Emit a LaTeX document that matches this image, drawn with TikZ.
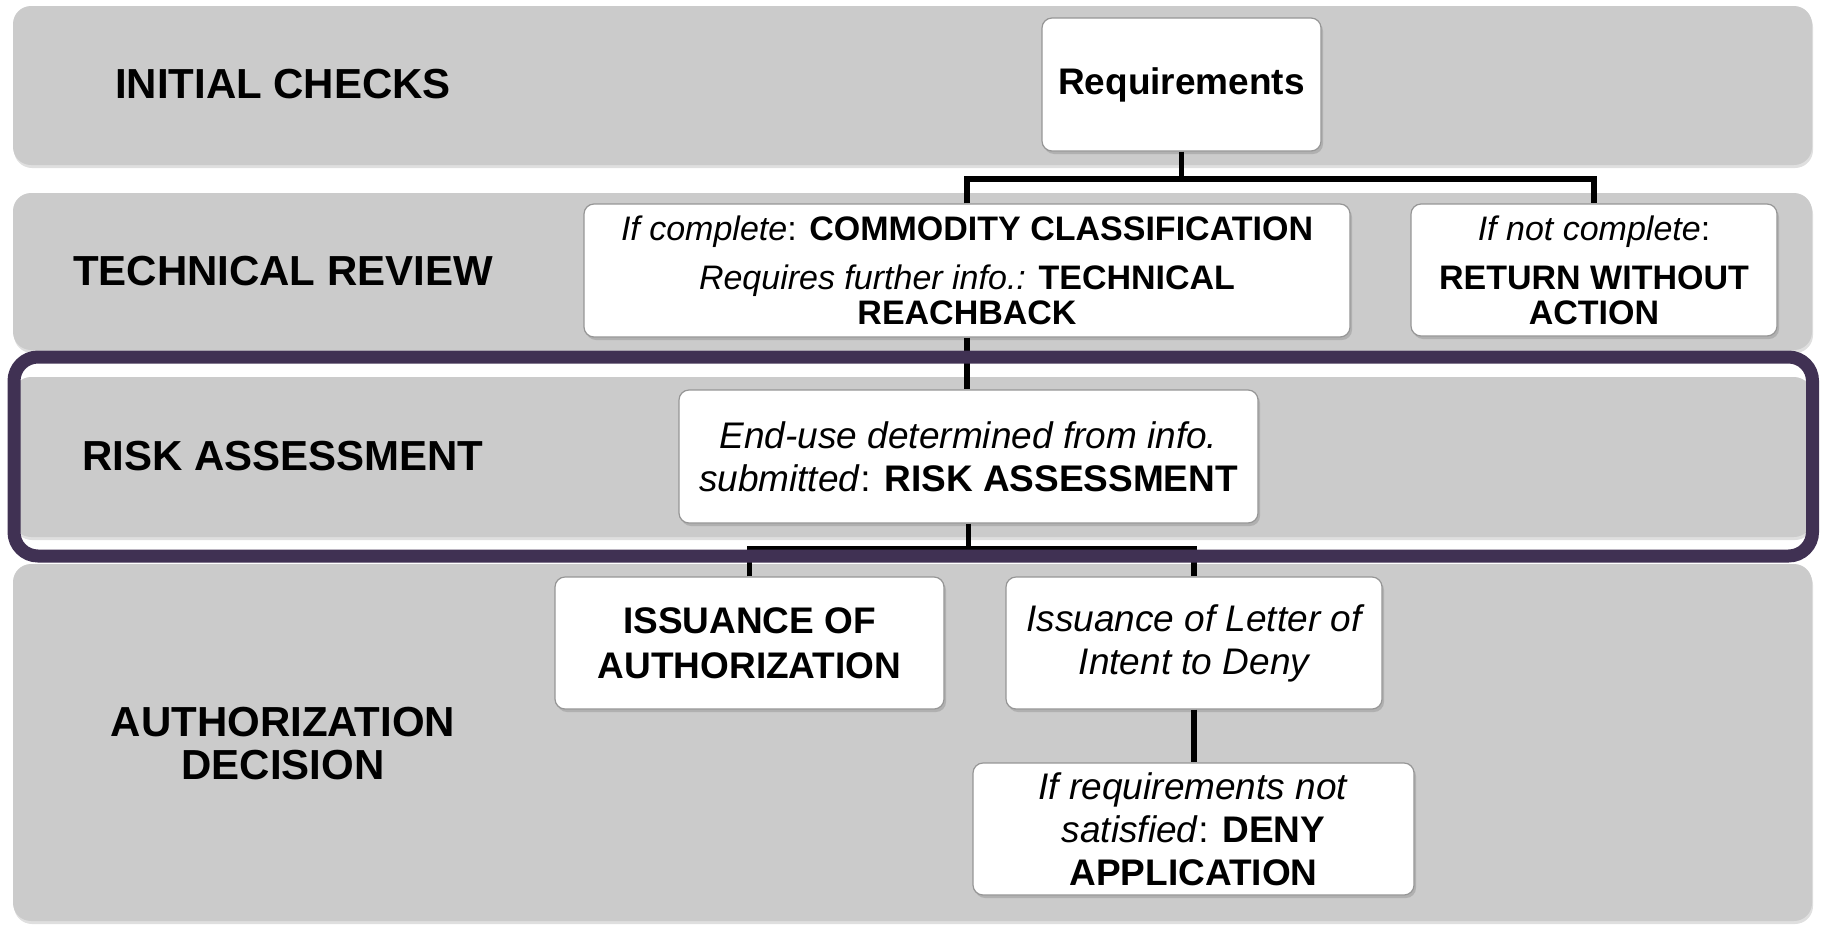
\documentclass[tikz,border=0pt]{standalone}
\usepackage{fontspec}
\setmainfont{Liberation Sans}
\usetikzlibrary{shadows}
\definecolor{bandgray}{RGB}{203,203,203}
\definecolor{framepurple}{RGB}{64,49,83}
\definecolor{boxedge}{RGB}{150,150,150}
\begin{document}
\begin{tikzpicture}[x=1pt,y=-1pt,
  bandbox/.style={fill=bandgray, rounded corners=18pt,
    drop shadow={shadow xshift=1pt,shadow yshift=-3pt,opacity=0.25}},
  boxn/.style={draw=boxedge, line width=1.2pt, fill=white, rounded corners=10pt,
    drop shadow={shadow xshift=2pt,shadow yshift=-3pt,opacity=0.35},
    align=center, inner sep=0pt},
  lab/.style={align=center, inner sep=0pt, font=\fontsize{42}{43}\selectfont\bfseries},
  conn/.style={draw=black, line width=5.5pt}
]
\useasboundingbox (0,0) rectangle (1822,924);
% bands
\path[bandbox] (13,6) rectangle (1812,165);
\path[bandbox] (13,193) rectangle (1812,350);
\path[bandbox] (13,377) rectangle (1812,537);
\path[bandbox] (13,564) rectangle (1812,921);

% boxes
\node[boxn, minimum width=279pt, minimum height=133pt, font=\fontsize{37}{43}\selectfont\bfseries]
  (req) at (1181.5,84.5) {\raisebox{-3pt}{Requirements}};
\node[boxn, minimum width=766pt, minimum height=133pt, font=\fontsize{34}{35}\selectfont]
  (c1) at (967,270.5) {\textit{If complete}: \textbf{COMMODITY CLASSIFICATION}\\[14pt]
  \textit{Requires further info.:} \textbf{TECHNICAL}\\ \textbf{REACHBACK}};
\node[boxn, minimum width=366pt, minimum height=132pt, font=\fontsize{34}{35}\selectfont]
  (c2) at (1594,270) {\textit{If not complete}:\\[14pt] \textbf{RETURN WITHOUT}\\ \textbf{ACTION}};
\node[boxn, minimum width=579pt, minimum height=133pt, font=\fontsize{37}{43}\selectfont]
  (risk) at (968.5,456.5) {\textit{End-use determined from info.}\\ \textit{submitted}: \textbf{RISK ASSESSMENT}};
\node[boxn, minimum width=389pt, minimum height=132pt, font=\fontsize{37}{45}\selectfont\bfseries]
  (iss) at (749.5,643) {ISSUANCE OF\\ AUTHORIZATION};
\node[boxn, minimum width=376pt, minimum height=132pt, font=\fontsize{37}{43}\selectfont\itshape]
  (loi) at (1194,643) {Issuance of Letter of\\ Intent to Deny};
\node[boxn, minimum width=441pt, minimum height=132pt, font=\fontsize{37}{43}\selectfont]
  (deny) at (1193.5,829) {\textit{If requirements not}\\ \textit{satisfied}: \textbf{DENY}\\ \textbf{APPLICATION}};

% connectors
\coordinate (j1) at (0,179);
\coordinate (j2) at (0,549);
\draw[conn] (req.south) -- (req.south |- j1);
\draw[conn] (c1.north) |- (req.south |- j1) -| (c2.north);
\draw[conn] (c1.south) -- (c1.south |- risk.north);
\draw[conn] (risk.south) -- (risk.south |- j2);
\draw[conn] (iss.north) |- (risk.south |- j2) -| (loi.north);
\draw[conn] (loi.south) -- (loi.south |- deny.north);

% frame
\draw[line width=13pt, draw=framepurple, rounded corners=24pt] (14,357) rectangle (1812.5,556);

% labels
\node[lab] (l1) at (283,84) {INITIAL CHECKS};
\node[lab] (l2) at (283,271) {TECHNICAL REVIEW};
\node[lab] (l3) at (283,456) {RISK ASSESSMENT};
\node[lab] (l4) at (283,744) {AUTHORIZATION\\ DECISION};
\end{tikzpicture}
\end{document}
